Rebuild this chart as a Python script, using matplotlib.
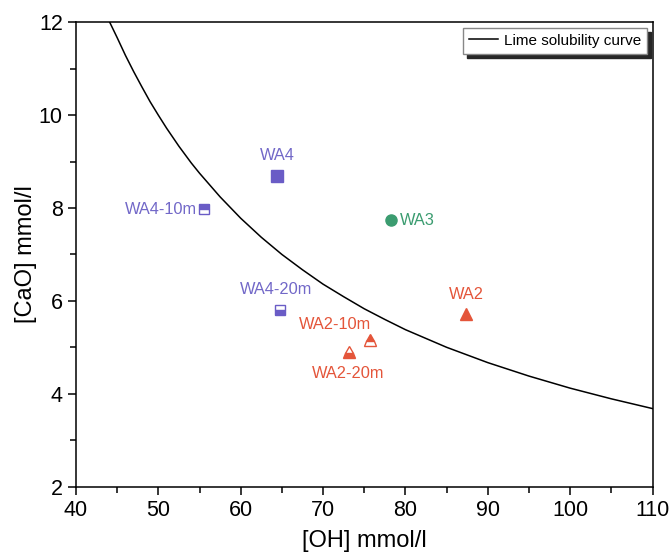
# ============================================================
# [CaO] vs [OH] with lime solubility curve
# ============================================================

import matplotlib.pyplot as plt
from matplotlib.ticker import MultipleLocator

plt.rcParams['font.family'] = ['Liberation Sans', 'DejaVu Sans']

# ------------------------------------------------------------
# data
# ------------------------------------------------------------

# lime solubility curve
curve_oh = [44.1, 45, 46, 47, 48, 49, 50, 51, 52.5, 54, 55, 57.5, 60, 62.5, 65, 67.5, 70,
            72.5, 75, 77.5, 80, 85, 90, 95, 100, 105, 110]
curve_cao = [12.0, 11.67, 11.29, 10.94, 10.61, 10.29, 10.0, 9.72, 9.33, 8.97, 8.75, 8.24,
             7.78, 7.37, 7.0, 6.67, 6.36, 6.09, 5.83, 5.60, 5.38, 5.0, 4.67, 4.38, 4.12,
             3.89, 3.68]

# samples
names = ['WA4', 'WA4-10m', 'WA4-20m', 'WA3', 'WA2', 'WA2-10m', 'WA2-20m']
oh = [64.4, 55.6, 64.8, 78.3, 87.4, 75.7, 73.1]
cao = [8.69, 7.97, 5.81, 7.74, 5.71, 5.16, 4.89]

purple = '#6a5cc6'
green = '#3b9c70'
red = '#e4553a'

marker_style = {
    'WA4':     dict(marker='s', color=purple, fill='full', ms=8),
    'WA4-10m': dict(marker='s', color=purple, fill='top', ms=7),
    'WA4-20m': dict(marker='s', color=purple, fill='bottom', ms=7),
    'WA3':     dict(marker='o', color=green, fill='full', ms=8),
    'WA2':     dict(marker='^', color=red, fill='full', ms=9),
    'WA2-10m': dict(marker='^', color=red, fill='top', ms=9),
    'WA2-20m': dict(marker='^', color=red, fill='bottom', ms=9),
}

# label offsets in points (dx, dy, ha, va)
label_pos = {
    'WA4':     (0, 9, 'center', 'bottom'),
    'WA4-10m': (-5, 0, 'right', 'center'),
    'WA4-20m': (-3, 9, 'center', 'bottom'),
    'WA3':     (6, 0, 'left', 'center'),
    'WA2':     (0, 9, 'center', 'bottom'),
    'WA2-10m': (-25, 6, 'center', 'bottom'),
    'WA2-20m': (0, -10, 'center', 'top'),
}
label_color = {'WA4': '#7268c8', 'WA3': '#3b9c70', 'WA2': '#e4553a'}

# ------------------------------------------------------------
# plot
# ------------------------------------------------------------

fig = plt.figure(figsize=(6.7, 5.58), dpi=100)
ax = fig.add_axes([0.1134, 0.128, 0.8605, 0.832])

ax.plot(curve_oh, curve_cao, color='black', linewidth=1.1,
        label='Lime solubility curve')

for name, x, y in zip(names, oh, cao):
    s = marker_style[name]
    ax.plot(x, y, linestyle='none', marker=s['marker'], markersize=s['ms'],
            color=s['color'], fillstyle=s['fill'], markerfacecoloralt='white',
            markeredgecolor=s['color'], markeredgewidth=1)
    dx, dy, ha, va = label_pos[name]
    ax.annotate(name, (x, y), xytext=(dx, dy), textcoords='offset points',
                ha=ha, va=va, fontsize=11.8, color=label_color[name.split('-')[0]])

ax.set_xlim(40, 110)
ax.set_ylim(2, 12)
ax.xaxis.set_major_locator(MultipleLocator(10))
ax.xaxis.set_minor_locator(MultipleLocator(5))
ax.yaxis.set_major_locator(MultipleLocator(2))
ax.yaxis.set_minor_locator(MultipleLocator(1))
ax.tick_params(which='both', direction='out', top=False, right=False,
               width=1.1, labelsize=15.5)
ax.tick_params(which='major', length=6)
ax.tick_params(which='minor', length=4)
for sp in ax.spines.values():
    sp.set_linewidth(1.1)

ax.set_xlabel('[OH] mmol/l', fontsize=17, labelpad=7)
ax.set_ylabel('[CaO] mmol/l', fontsize=17, labelpad=1)

ax.legend(loc='upper right', fontsize=11, fancybox=False, edgecolor='#888888',
          shadow={'color': '0.15', 'alpha': 1, 'ox': 3, 'oy': -3}, handlelength=1.9,
          handletextpad=0.4, borderpad=0.4, borderaxespad=0.35, framealpha=1)

plt.savefig('out.png', dpi=100)
print('saved out.png')
